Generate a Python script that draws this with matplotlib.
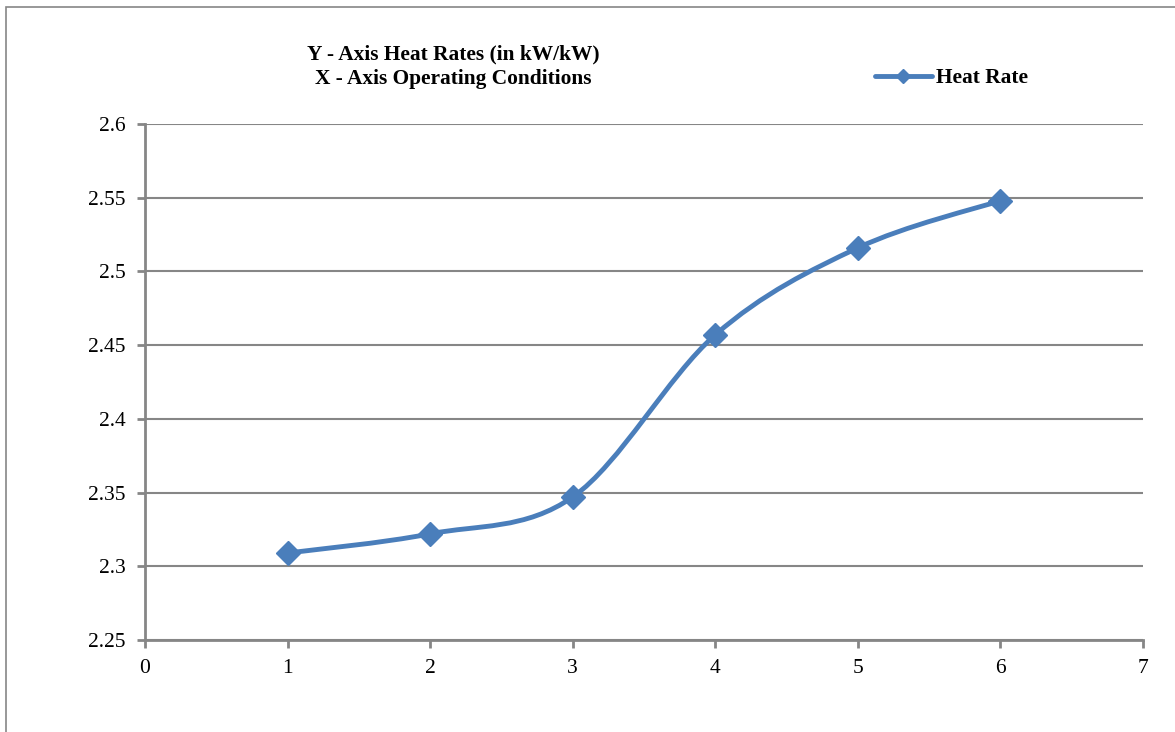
import numpy as np
import matplotlib.pyplot as plt
from matplotlib.path import Path
from matplotlib.patches import PathPatch, Rectangle
from matplotlib.lines import Line2D

plt.rcParams['font.family'] = ['Liberation Serif', 'DejaVu Serif']

# operating conditions and heat rates (kW/kW)
conditions = [1, 2, 3, 4, 5, 6]
heat_rate = [2.309, 2.322, 2.347, 2.457, 2.516, 2.548]
y_ticks = [2.25, 2.3, 2.35, 2.4, 2.45, 2.5, 2.55, 2.6]
x_ticks = [0, 1, 2, 3, 4, 5, 6, 7]

blue = '#4a7ebb'
grey = '#868686'

fig = plt.figure(figsize=(11.75, 7.32), dpi=100)
ax = fig.add_axes([145/1175, 1-640/732, (1143-145)/1175, (640-124)/732])

# outer chart frame (Excel style)
fig.patches.append(Rectangle((6/1175, -0.1), 1.2, 1 - 7/732 + 0.1, transform=fig.transFigure,
                             fill=False, edgecolor=grey, linewidth=1.2))

# smoothed line like Excel: bezier with control points from neighbours
pts = np.column_stack([conditions, heat_rate]).astype(float)
verts = [pts[0]]
codes = [Path.MOVETO]
n = len(pts)
for i in range(n - 1):
    p0 = pts[i - 1] if i > 0 else pts[i]
    p1 = pts[i]
    p2 = pts[i + 1]
    p3 = pts[i + 2] if i + 2 < n else pts[i + 1]
    c1 = p1 + (p2 - p0) / 6
    c2 = p2 - (p3 - p1) / 6
    verts += [c1, c2, p2]
    codes += [Path.CURVE4] * 3
ax.add_patch(PathPatch(Path(verts, codes), facecolor='none', edgecolor=blue,
                       linewidth=3.5, capstyle='round', zorder=3))
ax.plot(conditions, heat_rate, linestyle='none', marker='D', markersize=12.5,
        color=blue, zorder=4)

ax.set_xlim(0, 7)
ax.set_ylim(2.25, 2.6)
ax.set_xticks(x_ticks)
ax.set_yticks(y_ticks)
ax.set_yticklabels(['2.25', '2.3', '2.35', '2.4', '2.45', '2.5', '2.55', '2.6'])
ax.grid(axis='y', color=grey, linewidth=1.5)
ax.set_axisbelow(True)
for s in ['top', 'right']:
    ax.spines[s].set_visible(False)
for s in ['left', 'bottom']:
    ax.spines[s].set_color(grey)
    ax.spines[s].set_linewidth(2)
ax.tick_params(axis='both', colors=grey, width=2, length=6, labelsize=15.5,
               labelcolor='black')
ax.tick_params(axis='y', pad=8)
ax.tick_params(axis='x', pad=8)

fig.text(453/1175, 1-54/732, 'Y - Axis Heat Rates (in kW/kW)', ha='center', va='center',
         fontsize=15.4, fontweight='bold')
fig.text(453/1175, 1-79/732, 'X - Axis Operating Conditions', ha='center', va='center',
         fontsize=15.4, fontweight='bold')

handle = Line2D([], [], color=blue, linewidth=3.5, marker='D', markersize=7,
                solid_capstyle='round')
leg = fig.legend([handle], ['Heat Rate'], loc='center left',
                 bbox_to_anchor=(866/1175, 1-78/732), frameon=False,
                 handlelength=2.7, handletextpad=0.15, borderaxespad=0,
                 prop={'size': 15.4, 'weight': 'bold'})

fig.savefig('out.png', dpi=100)
